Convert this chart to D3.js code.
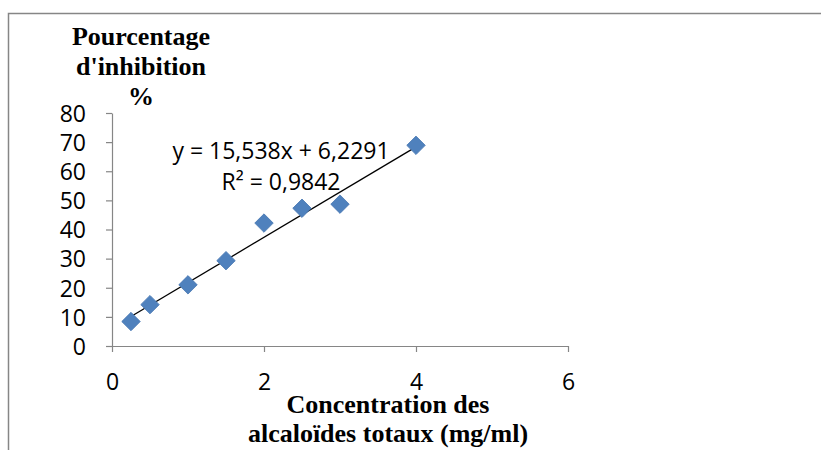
<!DOCTYPE html>
<html>
<head>
<meta charset="utf-8">
<script src="https://cdn.jsdelivr.net/npm/d3@7"></script>
<style>
  html, body { margin: 0; padding: 0; background: #ffffff; }
  svg { display: block; }
</style>
</head>
<body>
<svg id="chart" width="821" height="450"></svg>
<script>
// Concentration (mg/ml) and inhibition (%) measurements
const concentrations = [0.25, 0.5, 1, 1.5, 2, 2.5, 3, 4];
const inhibition = [8.4, 14.2, 21.0, 29.3, 42.2, 47.3, 48.7, 68.9];

// Linear trendline coefficients and fit quality
const slope = 15.538;
const intercept = 6.2291;
const rSquared = 0.9842;

const xTicks = [0, 2, 4, 6];
const yTicks = [0, 10, 20, 30, 40, 50, 60, 70, 80];

const yTitleLines = ["Pourcentage", "d'inhibition", "%"];
const xTitleLines = ["Concentration des", "alcaloïdes totaux (mg/ml)"];

const svg = d3.select("#chart");
const axisColor = "#868686";
const markerColor = "#4F81BD";
const sansFont = "'Open Sans', 'Noto Sans', sans-serif";
const serifFont = "'Liberation Serif', 'DejaVu Serif', serif";

// Chart frame
svg.append("rect")
  .attr("x", 8.5).attr("y", 13.5)
  .attr("width", 900).attr("height", 500)
  .attr("fill", "none")
  .attr("stroke", axisColor)
  .attr("stroke-width", 1.5);

const x = d3.scaleLinear().domain([0, 6]).range([112, 568]);
const y = d3.scaleLinear().domain([0, 80]).range([346, 113]);

const fmt = v => String(v).replace(".", ",");

// Y axis
const yAxis = svg.append("g")
  .attr("transform", `translate(${x(0)},0)`)
  .call(d3.axisLeft(y).tickValues(yTicks).tickSize(6).tickSizeOuter(0).tickPadding(20).tickFormat(d => d));
// X axis
const xAxis = svg.append("g")
  .attr("transform", `translate(0,${y(0)})`)
  .call(d3.axisBottom(x).tickValues(xTicks).tickSize(6).tickSizeOuter(0).tickPadding(22).tickFormat(d => d));

[yAxis, xAxis].forEach(g => {
  g.select(".domain").attr("stroke", axisColor).attr("stroke-width", 1.2);
  g.selectAll(".tick line").attr("stroke", axisColor).attr("stroke-width", 1.2);
  g.selectAll(".tick text")
    .attr("fill", "#000")
    .style("font-family", sansFont)
    .style("font-size", "23px");
});
yAxis.selectAll(".tick text").attr("dy", "0.36em");
xAxis.selectAll(".tick text").attr("dy", "0.71em");

// Trendline from the fitted equation
const xMin = d3.min(concentrations), xMax = d3.max(concentrations);
svg.append("line")
  .attr("x1", x(xMin)).attr("y1", y(slope * xMin + intercept))
  .attr("x2", x(xMax)).attr("y2", y(slope * xMax + intercept))
  .attr("stroke", "#000")
  .attr("stroke-width", 1.3);

// Diamond markers
const diamond = d3.symbol().type(d3.symbolSquare).size(170);
svg.append("g").selectAll("path")
  .data(concentrations.map((c, i) => [c, inhibition[i]]))
  .join("path")
  .attr("d", diamond)
  .attr("transform", d => `translate(${x(d[0])},${y(d[1])}) rotate(45)`)
  .attr("fill", markerColor)
  .attr("stroke", "#4a7ab3")
  .attr("stroke-width", 0.8);

// Equation label
const eq = svg.append("text")
  .attr("text-anchor", "middle")
  .style("font-family", sansFont)
  .style("font-size", "23px")
  .attr("fill", "#000");
eq.append("tspan").attr("x", 281).attr("y", 159)
  .text(`y = ${fmt(slope)}x + ${fmt(intercept)}`);
eq.append("tspan").attr("x", 281).attr("y", 190)
  .text(`R² = ${fmt(rSquared)}`);

// Axis titles
const yTitle = svg.append("text")
  .attr("text-anchor", "middle")
  .style("font-family", serifFont)
  .style("font-weight", "bold")
  .style("font-size", "26px")
  .attr("fill", "#000");
yTitleLines.forEach((t, i) => {
  yTitle.append("tspan").attr("x", 141).attr("y", 45 + i * 30).text(t);
});

const xTitle = svg.append("text")
  .attr("text-anchor", "middle")
  .style("font-family", serifFont)
  .style("font-weight", "bold")
  .style("font-size", "26px")
  .attr("fill", "#000");
xTitleLines.forEach((t, i) => {
  xTitle.append("tspan").attr("x", 388).attr("y", 413 + i * 29).text(t);
});
</script>
</body>
</html>
